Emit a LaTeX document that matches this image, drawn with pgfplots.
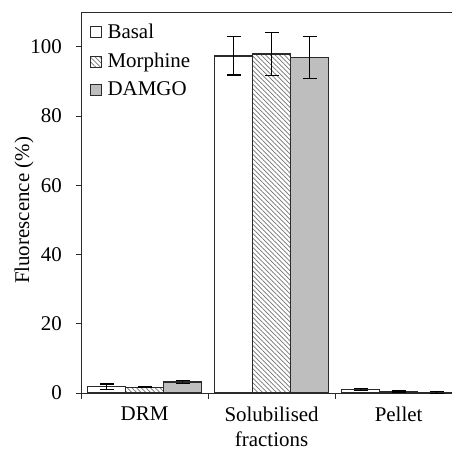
\documentclass[border=0pt]{standalone}
\usepackage{pgfplots}
\pgfplotsset{compat=1.18}
\usetikzlibrary{patterns.meta}
\usepackage{fontspec}
\setmainfont{Liberation Serif}
\definecolor{edge}{HTML}{2A2A2A}
\definecolor{damgo}{HTML}{BEBEBE}
\begin{document}
\fontsize{21}{25}\selectfont
\begin{tikzpicture}
\begin{axis}[
  scale only axis, width=371bp, height=381bp,
  ybar=0pt, bar width=38bp,
  ymin=0, ymax=110, xmin=-0.5, xmax=2.42,
  axis x line*=box, axis y line*=left,
  axis line style={edge, line width=0.9pt, -},
  tick align=outside,
  ytick={0,20,40,60,80,100}, ytick pos=left,
  xtick={0,1,2}, xtick pos=bottom,
  xticklabels={DRM, Solubilised\\fractions, Pellet},
  x tick label style={align=center, inner sep=0pt, yshift=-9bp, font=\fontsize{21}{25}\selectfont},
  y tick label style={xshift=-7bp, font=\fontsize{21}{25}\selectfont},
  major x tick style={draw=none},
  extra x ticks={-0.5,0.5,1.5}, extra x tick labels={},
  extra x tick style={major x tick style={draw=edge, line width=0.8pt}, major tick length=6bp},
  major tick length=5bp,
  y tick style={edge, line width=0.8pt},
  /pgf/number format/assume math mode=true,
  ylabel={Fluorescence (\%)},
  ylabel style={font=\fontsize{21}{25}\selectfont, at={(axis description cs:-0.1536,0.479)}, anchor=center},
  legend style={draw=none, fill=none, at={(axis description cs:0.02,0.978)}, anchor=north west,
    font=\fontsize{21}{25}\selectfont, row sep=7.5bp, column sep=4bp, inner sep=1bp},
  legend cell align=left,
  legend image code/.code={\draw[#1, line width=1pt] (0bp,-5.5bp) rectangle (11bp,5.5bp);},
  error bars/y dir=both, error bars/y explicit,
  error bars/error bar style={line width=1.1pt, black},
  error bars/error mark options={rotate=90, mark size=7bp, line width=1.1pt, black},
]
\addplot[draw=edge, line width=1.2pt, fill=white] coordinates {
  (0,1.8) +- (0,0.8)
  (1,97.3) +- (0,5.5)
  (2,1.0) +- (0,0.3)
};
\addplot[draw=edge, line width=1.2pt, fill=white,
  postaction={pattern={Lines[angle=-45, distance=3.3bp, line width=0.7bp]}, pattern color=gray!90!black}] coordinates {
  (0,1.7) +- (0,0.15)
  (1,97.9) +- (0,6.2)
  (2,0.5) +- (0,0.2)
};
\addplot[draw=edge, line width=1.2pt, fill=damgo] coordinates {
  (0,3.2) +- (0,0.5)
  (1,96.8) +- (0,6.0)
  (2,0.2) +- (0,0.3)
};
\legend{Basal, Morphine, DAMGO}
\end{axis}
\pgfresetboundingbox
\path ([xshift=-81bp, yshift=12bp]current axis.north west) rectangle ([yshift=-59bp]current axis.south east);
\end{tikzpicture}
\end{document}
